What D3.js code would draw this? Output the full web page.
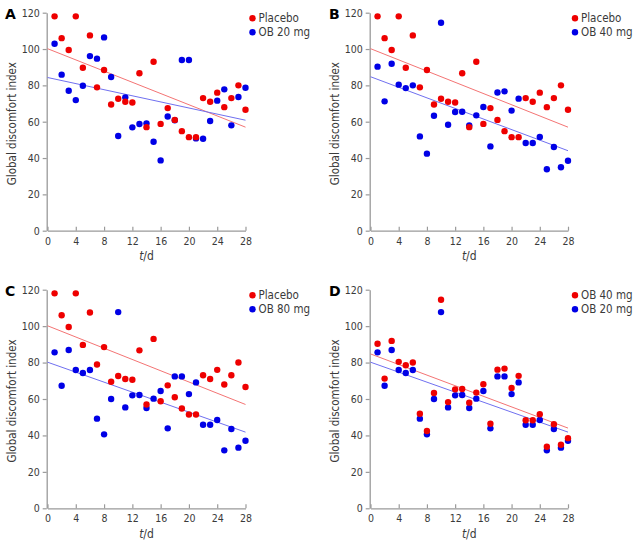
<!DOCTYPE html>
<html><head><meta charset="utf-8">
<script src="https://cdn.jsdelivr.net/npm/d3@7"></script>
<style>
body{margin:0;background:#fff}
text{font-family:"DejaVu Sans Condensed","DejaVu Sans",Verdana,sans-serif}
</style>
</head><body>
<svg id="chart" width="636" height="542"></svg>
<script>
// ---- data ----
const days = [1,2,3,4,5,6,7,8,9,10,11,12,13,14,15,16,17,18,19,20,21,22,23,24,25,26,27,28];
const xTicks = [0,4,8,12,16,20,24,28];
const yTicks = [0,20,40,60,80,100,120];
const placebo = [118,106,99.5,118,89.7,107.5,78.9,88.5,69.5,72.6,71,70.6,86.7,57,93,58.8,67.5,61,54.8,51.5,51.5,73,71,76,68,73,80,66.6];
const ob20 = [102.9,85.9,77,71.9,79.8,96.1,94.7,106.4,84.6,52.1,73.4,56.9,58.7,59.1,49,38.7,62.9,60.8,94,94,50.8,50.6,60.4,71.6,77.8,58,73.6,78.7];
const ob40 = [90.3,71.2,91.9,80.4,78.5,80,51.9,42.4,63.3,114.5,58.3,65.3,65.5,58,63.5,68.1,46.4,76.1,76.7,66.1,72.7,48.3,48.3,51.6,33.8,46.1,34.9,38.5];
const ob80 = [85.6,67.3,86.9,75.9,74.3,75.9,49.2,40.6,60,107.7,55.4,62,62.2,55.1,60.2,64.4,43.9,72.4,72.4,62.7,69.1,45.9,45.9,48.5,31.8,43.5,33.3,37.1];
const panelLabels = ["A","B","C","D"];
const redNames = ["Placebo","Placebo","Placebo","OB 40 mg"];
const blueNames = ["OB 20 mg","OB 40 mg","OB 80 mg","OB 20 mg"];
const redSeries = [placebo, placebo, placebo, ob40];
const blueSeries = [ob20, ob40, ob80, ob80];

// ---- layout ----
const layout = [
  {x0:47.5, x1:245.5, yTop:12.7, yBot:230.7, lx:5, ly:19},
  {x0:370.5, x1:568, yTop:12.7, yBot:230.7, lx:329, ly:19},
  {x0:47.5, x1:245.5, yTop:289.7, yBot:508.3, lx:5, ly:296},
  {x0:370.5, x1:568, yTop:289.7, yBot:508.3, lx:329, ly:296}
];
const RED = "#ee0000", BLUE = "#0000e6";
const RED_LINE = "#f47474", BLUE_LINE = "#7070f0";
const AXIS = "#9a9a9a", TXT = "#3a3a3a";

function linreg(xs, ys){
  const mx = d3.mean(xs), my = d3.mean(ys);
  let sxy = 0, sxx = 0;
  xs.forEach((x,i)=>{ sxy += (x-mx)*(ys[i]-my); sxx += (x-mx)*(x-mx); });
  const b = sxy/sxx;
  return {a: my - b*mx, b};
}

const svg = d3.select("#chart");

layout.forEach((L, pi) => {
  const g = svg.append("g");
  const x = d3.scaleLinear().domain([0,28]).range([L.x0, L.x1]);
  const y = d3.scaleLinear().domain([0,120]).range([L.yBot, L.yTop]);

  // axes
  const yAxis = d3.axisLeft(y).tickValues(yTicks).tickSizeInner(4).tickSizeOuter(0).tickPadding(3);
  const xAxis = d3.axisBottom(x).tickValues(xTicks).tickSizeInner(-4).tickSizeOuter(0).tickPadding(6.5);
  const ya = g.append("g").attr("transform", `translate(${L.x0 - 0.8},0)`).call(yAxis);
  const xa = g.append("g").attr("transform", `translate(0,${L.yBot})`).call(xAxis);
  [ya, xa].forEach(a => {
    a.select(".domain").attr("stroke", AXIS).attr("stroke-width", 1.3);
    a.selectAll(".tick line").attr("stroke", AXIS).attr("stroke-width", 1.2);
    a.selectAll(".tick text").attr("fill", TXT).style("font-size", "10.5px")
      .style("font-family", '"DejaVu Sans Condensed","DejaVu Sans",sans-serif');
  });

  // trend lines
  const fits = [[redSeries[pi], RED_LINE], [blueSeries[pi], BLUE_LINE]];
  fits.forEach(([vals, col]) => {
    const r = linreg(days, vals);
    g.append("line")
      .attr("x1", x(0)).attr("y1", y(r.a))
      .attr("x2", x(28)).attr("y2", y(r.a + r.b*28))
      .attr("stroke", col).attr("stroke-width", 1);
  });

  // points: blue first, red on top
  g.append("g").selectAll("circle").data(days).join("circle")
    .attr("cx", d => x(d)).attr("cy", (d,i) => y(blueSeries[pi][i]))
    .attr("r", 3.2).attr("fill", BLUE);
  g.append("g").selectAll("circle").data(days).join("circle")
    .attr("cx", d => x(d)).attr("cy", (d,i) => y(redSeries[pi][i]))
    .attr("r", 3.2).attr("fill", RED);

  // legend
  const leg = [[redNames[pi], RED], [blueNames[pi], BLUE]];
  leg.forEach(([name, col], k) => {
    const cy = L.yTop + 5.6 + k*14;
    g.append("circle").attr("cx", L.x1 + 7).attr("cy", cy).attr("r", 3.2).attr("fill", col);
    g.append("text").attr("x", L.x1 + 13).attr("y", cy + 4)
      .attr("fill", TXT).style("font-size", "11.5px").text(name);
  });

  // panel label
  g.append("text").attr("x", L.lx).attr("y", L.ly)
    .attr("fill", "#000").style("font-size", "14px").style("font-weight", "bold")
    .style("font-family", '"DejaVu Sans","Liberation Sans",sans-serif')
    .text(panelLabels[pi]);

  // y title
  const ycen = (L.yTop + L.yBot)/2 + 2;
  g.append("text")
    .attr("transform", `translate(${L.x0 - 36},${ycen}) rotate(-90)`)
    .attr("text-anchor", "middle").attr("dy", "0.35em")
    .attr("fill", TXT).style("font-size", "11.5px")
    .text("Global discomfort index");

  // x title
  const xt = g.append("text")
    .attr("x", (L.x0 + L.x1)/2).attr("y", L.yBot + 29.5)
    .attr("text-anchor", "middle").attr("fill", TXT).style("font-size", "12px");
  xt.append("tspan").style("font-style", "italic").text("t");
  xt.append("tspan").text("/d");
});
</script>
</body></html>
